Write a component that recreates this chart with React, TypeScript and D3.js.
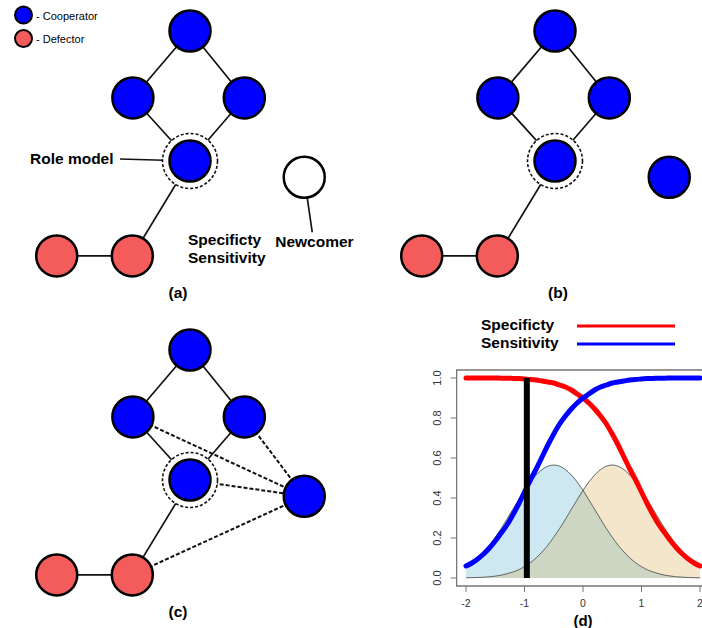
import * as d3 from 'd3'

const FONT = '"Liberation Sans", Arial, Helvetica, sans-serif'

// legend of the network panels
const roleNames = ['Cooperator', 'Defector']
const roleColors = ['#0000ff', '#f45b5b']

// network layout (abstract units, one unit ~ one step in the diamond)
const nodeIds = ['top', 'left', 'right', 'model', 'def1', 'def2', 'new']
const nodeUx = [0, -1.02, 0.97, 0, -2.38, -1.03, 2.04]
const nodeUy = [0, 1.03, 1.03, 2, 3.46, 3.46, 2.25]
const nodeRole = [0, 0, 0, 0, 1, 1, 0]

const solidEdges = [['top', 'left'], ['top', 'right'], ['left', 'model'], ['right', 'model'], ['model', 'def2'], ['def1', 'def2']]
const dashedEdges = [['left', 'new'], ['right', 'new'], ['model', 'new'], ['def2', 'new']]

const panelLabels = ['(a)', '(b)', '(c)']

// panel (d): specificity / sensitivity and the two score densities
const gridX = [-2.0, -1.9, -1.8, -1.7, -1.6, -1.5, -1.4, -1.3, -1.2, -1.1, -1.0, -0.9, -0.8, -0.7, -0.6, -0.5, -0.4, -0.3, -0.2, -0.1,
  0.0, 0.1, 0.2, 0.3, 0.4, 0.5, 0.6, 0.7, 0.8, 0.9, 1.0, 1.1, 1.2, 1.3, 1.4, 1.5, 1.6, 1.7, 1.8, 1.9, 2.0]
const specificity = [1.0, 1.0, 1.0, 1.0, 1.0, 1.0, 0.999, 0.999, 0.998, 0.997, 0.995, 0.993, 0.99, 0.985, 0.98, 0.975, 0.965, 0.955, 0.94, 0.92,
  0.9, 0.875, 0.845, 0.81, 0.77, 0.72, 0.665, 0.605, 0.545, 0.49, 0.43, 0.37, 0.315, 0.265, 0.225, 0.185, 0.15, 0.12, 0.095, 0.075, 0.06]
const sensitivity = [0.06, 0.075, 0.095, 0.12, 0.15, 0.185, 0.225, 0.265, 0.315, 0.37, 0.43, 0.49, 0.545, 0.605, 0.665, 0.72, 0.77, 0.81, 0.845, 0.875,
  0.9, 0.92, 0.94, 0.955, 0.965, 0.975, 0.98, 0.985, 0.99, 0.993, 0.995, 0.997, 0.998, 0.999, 0.999, 1.0, 1.0, 1.0, 1.0, 1.0, 1.0]
const cooperatorDensity = [0.057, 0.076, 0.101, 0.13, 0.164, 0.204, 0.247, 0.294, 0.343, 0.391, 0.438, 0.48, 0.515, 0.542, 0.559, 0.565, 0.559, 0.542, 0.515, 0.48,
  0.438, 0.391, 0.343, 0.294, 0.247, 0.204, 0.164, 0.13, 0.101, 0.076, 0.057, 0.041, 0.03, 0.021, 0.014, 0.0095, 0.006, 0.004, 0.0025, 0.0016, 0.001]
const defectorDensity = [0.001, 0.0016, 0.0025, 0.004, 0.006, 0.0095, 0.014, 0.021, 0.03, 0.041, 0.057, 0.076, 0.101, 0.13, 0.164, 0.204, 0.247, 0.294, 0.343, 0.391,
  0.438, 0.48, 0.515, 0.542, 0.559, 0.565, 0.559, 0.542, 0.515, 0.48, 0.438, 0.391, 0.343, 0.294, 0.247, 0.204, 0.164, 0.13, 0.101, 0.076, 0.057]
const threshold = -0.96
const xTicks = [-2, -1, 0, 1, 2]
const yTicks = [0, 0.2, 0.4, 0.6, 0.8, 1.0]
const curveNames = ['Specificty', 'Sensitivity']
const curveColors = ['#ff0000', '#0000ff']

const Network = ({ dx, dy, label, stage }) => {
  const sx = d3.scaleLinear().domain([0, 1]).range([190 + dx, 246 + dx])
  const sy = d3.scaleLinear().domain([0, 1]).range([31 + dy, 96 + dy])
  const pos = id => {
    const i = nodeIds.indexOf(id)
    return [sx(nodeUx[i]), sy(nodeUy[i])]
  }
  const r = 20.5
  const [mx, my] = pos('model')
  const [nx, ny] = pos('new')
  return (
    <g>
      {solidEdges.map(([a, b], i) => {
        const [x1, y1] = pos(a)
        const [x2, y2] = pos(b)
        return <line key={'s' + i} x1={x1} y1={y1} x2={x2} y2={y2} stroke="#111" strokeWidth={1.7} />
      })}
      {stage === 2 && dashedEdges.map(([a, b], i) => {
        const [x1, y1] = pos(a)
        const [x2, y2] = pos(b)
        return <line key={'d' + i} x1={x1} y1={y1} x2={x2} y2={y2} stroke="#111" strokeWidth={2} strokeDasharray="4,2" />
      })}
      {stage === 0 && (
        <g>
          <line x1={mx - 70} y1={my - 2} x2={mx} y2={my} stroke="#111" strokeWidth={1.7} />
          <line x1={nx} y1={ny} x2={nx + 8} y2={ny + 55} stroke="#111" strokeWidth={1.7} />
          <text x={mx - 160} y={my + 3} fontSize={15.5} fontWeight="bold" fontFamily={FONT}>Role model</text>
          <text x={mx - 2} y={my + 84} fontSize={15.5} fontWeight="bold" fontFamily={FONT}>Specificty</text>
          <text x={mx - 2} y={my + 102} fontSize={15.5} fontWeight="bold" fontFamily={FONT}>Sensitivity</text>
          <text x={nx - 29} y={ny + 70} fontSize={15.5} fontWeight="bold" fontFamily={FONT}>Newcomer</text>
        </g>
      )}
      <circle cx={mx} cy={my} r={27.5} fill="white" stroke="#111" strokeWidth={1.6} strokeDasharray="3,2" />
      {nodeIds.map((id, i) => {
        const [cx, cy] = pos(id)
        const fill = id === 'new' && stage === 0 ? 'white' : roleColors[nodeRole[i]]
        return <circle key={id} cx={cx} cy={cy} r={r} fill={fill} stroke="#000" strokeWidth={2.5} />
      })}
      <text x={(stage === 1 ? 193 : 178) + dx} y={298 + dy} textAnchor="middle" fontSize={15.5} fontWeight="bold" fontFamily={FONT}>{label}</text>
    </g>
  )
}

const RocPanel = () => {
  const x = d3.scaleLinear().domain([-2, 2]).range([466, 700])
  const y = d3.scaleLinear().domain([0, 1]).range([578, 378])
  const idx = gridX.map((_, i) => i)
  const area = d => d3.area().x(i => x(gridX[i])).y0(y(0)).y1(i => y(d[i])).curve(d3.curveMonotoneX)(idx)
  const line = d => d3.line().x(i => x(gridX[i])).y(i => y(d[i])).curve(d3.curveMonotoneX)(idx)
  const overlap = gridX.map((_, i) => Math.min(cooperatorDensity[i], defectorDensity[i]))
  const left = x(-2.16), right = x(2.16), top = y(1.04), bottom = y(-0.04)
  return (
    <g fontFamily={FONT}>
      {curveNames.map((n, i) => (
        <g key={n}>
          <text x={481} y={330 + i * 18} fontSize={15.5} fontWeight="bold">{n}</text>
          <line x1={577} x2={675} y1={326 + i * 18} y2={326 + i * 18} stroke={curveColors[i]} strokeWidth={3} />
        </g>
      ))}
      <path d={area(cooperatorDensity)} fill="#cde8f1" />
      <path d={area(defectorDensity)} fill="#f3e6cb" />
      <path d={area(overlap)} fill="#cdd6c3" />
      <path d={line(cooperatorDensity)} fill="none" stroke="#555" strokeWidth={0.9} />
      <path d={line(defectorDensity)} fill="none" stroke="#555" strokeWidth={0.9} />
      <path d={line(specificity)} fill="none" stroke={curveColors[0]} strokeWidth={5} strokeLinecap="round" />
      <path d={line(sensitivity)} fill="none" stroke={curveColors[1]} strokeWidth={5} strokeLinecap="round" />
      <rect x={x(threshold) - 3} y={y(1)} width={6} height={y(0) - y(1)} fill="#000" />
      <path d={`M${right},${top}H${left}V${bottom}H${right}`} fill="none" stroke="#777" strokeWidth={1.3} />
      {xTicks.map(t => (
        <g key={'x' + t}>
          <line x1={x(t)} x2={x(t)} y1={bottom} y2={bottom + 6} stroke="#777" />
          <text x={x(t)} y={607} textAnchor="middle" fontSize={10.5} fill="#333">{t}</text>
        </g>
      ))}
      {yTicks.map(t => (
        <g key={'y' + t}>
          <line x1={left - 6} x2={left} y1={y(t)} y2={y(t)} stroke="#777" />
          <text transform={`translate(441,${y(t)}) rotate(-90)`} textAnchor="middle" fontSize={11} fill="#333">{t.toFixed(1)}</text>
        </g>
      ))}
      <text x={583} y={626} textAnchor="middle" fontSize={15} fontWeight="bold">(d)</text>
    </g>
  )
}

export default function App() {
  return (
    <svg width={702} height={628} style={{ position: 'absolute', left: 0, top: 0, background: 'white' }}>
      <rect width={702} height={628} fill="white" />
      {roleNames.map((n, i) => (
        <g key={n}>
          <circle cx={23.5} cy={15 + i * 23.5} r={8.5} fill={roleColors[i]} stroke="#000" strokeWidth={2} />
          <text x={36} y={19.5 + i * 23.5} fontSize={11} fontFamily={FONT}>- {n}</text>
        </g>
      ))}
      <Network dx={0} dy={0} label={panelLabels[0]} stage={0} />
      <Network dx={365} dy={0} label={panelLabels[1]} stage={1} />
      <Network dx={0} dy={319} label={panelLabels[2]} stage={2} />
      <RocPanel />
    </svg>
  )
}
